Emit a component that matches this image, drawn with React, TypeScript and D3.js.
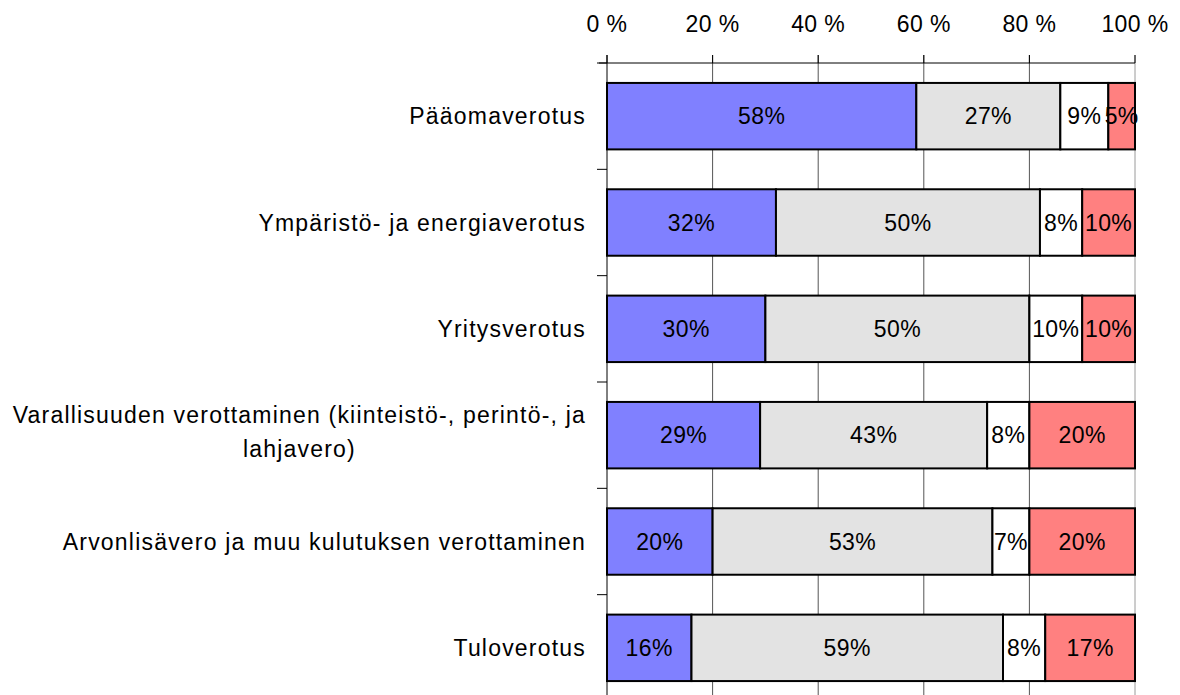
import * as d3 from "d3";
import { useRef, useEffect } from "react";

// kategoriat ylhäältä alas
const categories = [
  "Pääomaverotus",
  "Ympäristö- ja energiaverotus",
  "Yritysverotus",
  "Varallisuuden verottaminen (kiinteistö-, perintö-, ja lahjavero)",
  "Arvonlisävero ja muu kulutuksen verottaminen",
  "Tuloverotus",
];

// sarjat (prosentit)
const seriesA = [58, 32, 30, 29, 20, 16];
const seriesB = [27, 50, 50, 43, 53, 59];
const seriesC = [9, 8, 10, 8, 7, 8];
const seriesD = [5, 10, 10, 20, 20, 17];

const seriesKeys = ["a", "b", "c", "d"];
const colors = ["#8080ff", "#e3e3e3", "#ffffff", "#ff8080"];
const xTicks = [0, 0.2, 0.4, 0.6, 0.8, 1];

const FONT = "'Liberation Sans', Arial, sans-serif";

const App = () => {
  const chartRef = useRef<SVGSVGElement>(null);
  const width = 1180;
  const height = 695;

  const margin = { top: 63, left: 607, right: 45 };
  const plotBottom = 701;

  useEffect(() => {
    const svg = d3.select(chartRef.current);
    svg.selectAll("*").remove();

    const rows = categories.map((c, i) => ({
      cat: c,
      a: seriesA[i],
      b: seriesB[i],
      c: seriesC[i],
      d: seriesD[i],
    }));

    const stacked = d3.stack<any>().keys(seriesKeys).offset(d3.stackOffsetExpand)(rows);

    const x = d3.scaleLinear().domain([0, 1]).range([margin.left, width - margin.right]);
    const y = d3
      .scaleBand()
      .domain(categories)
      .range([margin.top, plotBottom])
      .paddingInner(0.375)
      .paddingOuter(0.1875);

    // ruudukko
    svg
      .append("g")
      .selectAll("line")
      .data(xTicks.slice(1))
      .enter()
      .append("line")
      .attr("x1", (d) => x(d))
      .attr("x2", (d) => x(d))
      .attr("y1", margin.top - 8)
      .attr("y2", plotBottom)
      .attr("stroke", (d) => (d === 1 ? "#9a9a9a" : "#555"))
      .attr("stroke-width", 1);

    // palkit
    const g = svg.append("g");
    stacked.forEach((layer, si) => {
      g.selectAll(".bar-" + si)
        .data(layer)
        .enter()
        .append("rect")
        .attr("x", (d) => x(d[0]))
        .attr("y", (d: any) => y(d.data.cat)!)
        .attr("width", (d) => x(d[1]) - x(d[0]))
        .attr("height", y.bandwidth())
        .attr("fill", colors[si])
        .attr("stroke", "#000")
        .attr("stroke-width", 2);
    });

    // arvojen tekstit
    stacked.forEach((layer) => {
      g.selectAll(null)
        .data(layer)
        .enter()
        .append("text")
        .attr("x", (d) => (x(d[0]) + x(d[1])) / 2)
        .attr("y", (d: any) => y(d.data.cat)! + y.bandwidth() / 2)
        .attr("dy", "0.35em")
        .attr("text-anchor", "middle")
        .style("font-family", FONT)
        .style("font-size", "23px")
        .style("letter-spacing", "0.4px")
        .attr("fill", "#000")
        .text((d: any) => d.data[layer.key] + "%");
    });

    // x-akseli ylhäällä
    svg
      .append("line")
      .attr("x1", margin.left - 8)
      .attr("x2", x(1))
      .attr("y1", margin.top)
      .attr("y2", margin.top)
      .attr("stroke", "#000");
    svg
      .append("g")
      .selectAll("line")
      .data(xTicks)
      .enter()
      .append("line")
      .attr("x1", (d) => x(d))
      .attr("x2", (d) => x(d))
      .attr("y1", margin.top - 8)
      .attr("y2", margin.top)
      .attr("stroke", "#000");
    svg
      .append("g")
      .selectAll("text")
      .data(xTicks)
      .enter()
      .append("text")
      .attr("x", (d) => x(d))
      .attr("y", 32)
      .attr("text-anchor", "middle")
      .style("font-family", FONT)
      .style("font-size", "23px")
      .style("letter-spacing", "0.4px")
      .text((d) => `${Math.round(d * 100)} %`);

    // y-akseli
    svg
      .append("line")
      .attr("x1", margin.left)
      .attr("x2", margin.left)
      .attr("y1", margin.top - 8)
      .attr("y2", plotBottom)
      .attr("stroke", "#000");
    const step = y.step();
    svg
      .append("g")
      .selectAll("line")
      .data(categories)
      .enter()
      .append("line")
      .attr("x1", margin.left - 10)
      .attr("x2", margin.left)
      .attr("y1", (d, i) => margin.top + i * step)
      .attr("y2", (d, i) => margin.top + i * step)
      .attr("stroke", "#000");

    // kategorioiden nimet, pitkä nimi kahdelle riville
    const labelX = margin.left - 21;
    const labelStyle = (t: any) =>
      t
        .style("font-family", FONT)
        .style("font-size", "23px")
        .style("letter-spacing", "1.2px");
    categories.forEach((c) => {
      const cy = y(c)! + y.bandwidth() / 2;
      if (c.length > 50) {
        const line1 = "Varallisuuden verottaminen (kiinteistö-, perintö-, ja";
        const line2 = "lahjavero)";
        const t1 = svg
          .append("text")
          .attr("x", labelX)
          .attr("y", cy - 20)
          .attr("dy", "0.35em")
          .attr("text-anchor", "end")
          .call(labelStyle)
          .text(line1);
        const w = (t1.node() as SVGTextElement).getComputedTextLength();
        svg
          .append("text")
          .attr("x", labelX - w / 2)
          .attr("y", cy + 14)
          .attr("dy", "0.35em")
          .attr("text-anchor", "middle")
          .call(labelStyle)
          .text(line2);
      } else {
        svg
          .append("text")
          .attr("x", labelX)
          .attr("y", cy)
          .attr("dy", "0.35em")
          .attr("text-anchor", "end")
          .call(labelStyle)
          .text(c);
      }
    });
  }, []);

  return (
    <>
      <style>{`body{margin:0}`}</style>
      <svg
        ref={chartRef}
        width={width}
        height={height}
        style={{ display: "block", background: "#fff" }}
      ></svg>
    </>
  );
};

export default App;
